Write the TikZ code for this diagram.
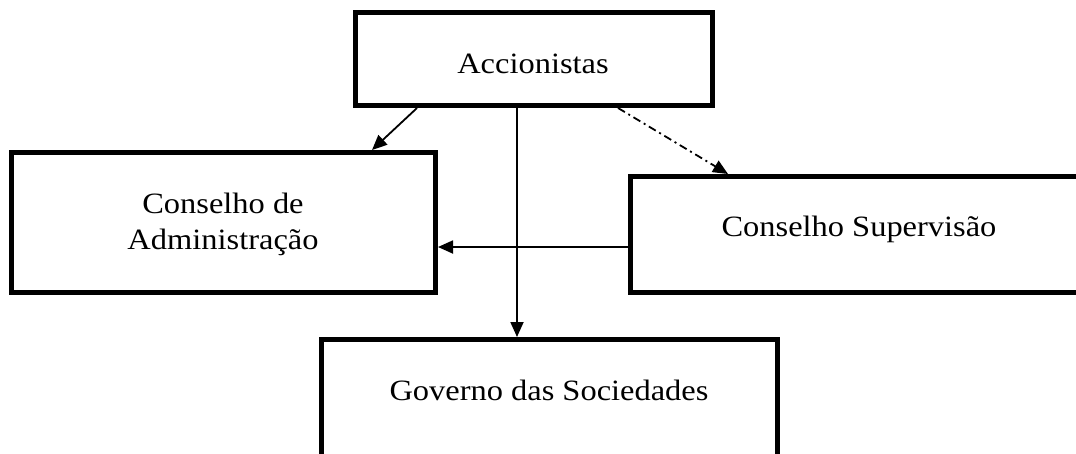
\documentclass[tikz,border=0pt]{standalone}
\usepackage{fontspec}
\setmainfont[FakeStretch=1.1]{Liberation Serif}
\usetikzlibrary{arrows.meta}
\begin{document}
\begin{tikzpicture}[x=1pt,y=-1pt,
  box/.style={draw, line width=5pt, inner sep=0pt},
  txt/.style={inner sep=0pt, anchor=base, font=\fontsize{29.5}{34}\selectfont},
  conn/.style={line width=1.8pt, -{Triangle[length=15pt,width=13pt]}},
  dashdot/.style={conn, dash pattern=on 8pt off 4pt on 2pt off 4pt}]
\useasboundingbox (0,0) rectangle (1076,453);
% boxes
\node[box, minimum width=357pt, minimum height=93pt] (acc) at (534,59) {};
\node[box, minimum width=424pt, minimum height=140pt] (adm) at (223.5,222.5) {};
\node[box, minimum width=457pt, minimum height=116pt] (sup) at (859,234.5) {};
\node[box, minimum width=456pt, minimum height=140.5pt] (gov) at (549.5,409.75) {};
% texts
\node[txt] (acctxt) at (533,73) {Accionistas};
\node[txt] (admtxt1) at (223,213) {Conselho de};
\node[txt] (admtxt2) at (223,249) {Administração};
\node[txt] (suptxt) at (859,236) {Conselho Supervisão};
\node[txt] (govtxt) at (549,400) {Governo das Sociedades};
% connectors
\draw[conn] ([xshift=-117pt]acc.south) -- ([xshift=148.5pt]adm.north);
\draw[conn] ([xshift=-17pt]acc.south) -- ([xshift=-17pt]acc.south |- gov.north);
\draw[conn] ([yshift=-12.5pt]sup.west) -- ([yshift=-12.5pt]sup.west -| adm.east);
\draw[dashdot] ([xshift=84pt]acc.south) -- ([xshift=-131pt]sup.north);
\end{tikzpicture}
\end{document}
